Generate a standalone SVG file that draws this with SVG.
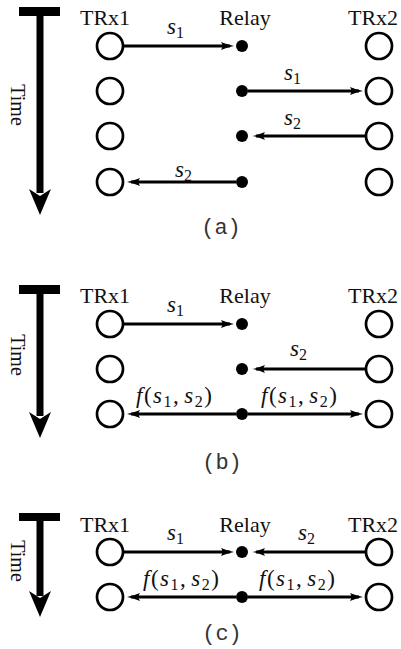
<svg xmlns="http://www.w3.org/2000/svg" width="401" height="649" viewBox="0 0 401 649">
<style>
.lbl{font-family:"Liberation Serif","Times New Roman",serif;font-size:22px;fill:#111;text-anchor:middle;}
.time{font-family:"Liberation Serif","Times New Roman",serif;font-size:20px;fill:#111;text-anchor:middle;}
.math{font-family:"Liberation Serif","Times New Roman",serif;font-size:23px;fill:#111;}
.fx{letter-spacing:1.5px;}
.it{font-style:italic;}
.sub{font-size:16px;}
.cap{font-family:"Liberation Mono","Courier New",monospace;font-size:22px;fill:#333;text-anchor:middle;}
.tx{fill:#fff;stroke:#000;stroke-width:2.7;}
.dot{fill:#000;}
.conn{stroke:#000;stroke-width:3;fill:none;marker-end:url(#ah);}
.bar{fill:#000;}
</style>
<defs>
<marker id="ah" markerUnits="userSpaceOnUse" viewBox="0 0 13 9" refX="9" refY="4.5" markerWidth="13" markerHeight="9" orient="auto">
<path d="M0,0.6 Q7,3.6 13,4.5 Q7,5.4 0,8.4 Q3,4.5 0,0.6 Z" fill="#000"/>
</marker>
</defs>

<!-- Panel (a) -->
<g id="time-a">
<rect class="bar" x="19" y="7" width="41" height="9"/>
<rect class="bar" x="36.5" y="15" width="7" height="178"/>
<polygon class="bar" points="29,189 40,215 51,189 40,196"/>
<text class="time" transform="translate(11,105) rotate(90)">Time</text>
</g>
<g id="labels-a">
<text class="lbl" x="105" y="25">TRx1</text>
<text class="lbl" x="245" y="25">Relay</text>
<text class="lbl" x="373" y="25">TRx2</text>
</g>
<g id="trx1-a">
<circle class="tx" cx="110" cy="46" r="13"/>
<circle class="tx" cx="110" cy="91" r="13"/>
<circle class="tx" cx="110" cy="136" r="13"/>
<circle class="tx" cx="110" cy="182" r="13"/>
</g>
<g id="relay-a">
<circle class="dot" cx="242" cy="46" r="6"/>
<circle class="dot" cx="242" cy="91" r="6"/>
<circle class="dot" cx="242" cy="136" r="6"/>
<circle class="dot" cx="242" cy="182" r="6"/>
</g>
<g id="trx2-a">
<circle class="tx" cx="379" cy="46" r="13"/>
<circle class="tx" cx="379" cy="91" r="13"/>
<circle class="tx" cx="379" cy="136" r="13"/>
<circle class="tx" cx="379" cy="182" r="13"/>
</g>
<g id="connectors-a">
<line class="conn" x1="123" y1="46" x2="230" y2="46"/>
<line class="conn" x1="248" y1="91" x2="359" y2="91"/>
<line class="conn" x1="366" y1="136" x2="256" y2="136"/>
<line class="conn" x1="236" y1="182" x2="131" y2="182"/>
<text class="math" x="167" y="34"><tspan class="it">s</tspan><tspan class="sub" dy="4">1</tspan></text>
<text class="math" x="284" y="80"><tspan class="it">s</tspan><tspan class="sub" dy="4">1</tspan></text>
<text class="math" x="284" y="125"><tspan class="it">s</tspan><tspan class="sub" dy="4">2</tspan></text>
<text class="math" x="175" y="177"><tspan class="it">s</tspan><tspan class="sub" dy="4">2</tspan></text>
</g>
<text class="cap" x="221" y="234">(a)</text>

<!-- Panel (b) -->
<g id="time-b">
<rect class="bar" x="19" y="285" width="41" height="9"/>
<rect class="bar" x="36.5" y="293" width="7" height="123"/>
<polygon class="bar" points="29,412 40,438 51,412 40,419"/>
<text class="time" transform="translate(11,355) rotate(90)">Time</text>
</g>
<g id="labels-b">
<text class="lbl" x="105" y="303">TRx1</text>
<text class="lbl" x="245" y="303">Relay</text>
<text class="lbl" x="373" y="303">TRx2</text>
</g>
<g id="trx1-b">
<circle class="tx" cx="110" cy="324" r="13"/>
<circle class="tx" cx="110" cy="369" r="13"/>
<circle class="tx" cx="110" cy="414" r="13"/>
</g>
<g id="relay-b">
<circle class="dot" cx="242" cy="324" r="6"/>
<circle class="dot" cx="242" cy="369" r="6"/>
<circle class="dot" cx="242" cy="414" r="6"/>
</g>
<g id="trx2-b">
<circle class="tx" cx="379" cy="324" r="13"/>
<circle class="tx" cx="379" cy="369" r="13"/>
<circle class="tx" cx="379" cy="414" r="13"/>
</g>
<g id="connectors-b">
<line class="conn" x1="123" y1="324" x2="230" y2="324"/>
<line class="conn" x1="366" y1="369" x2="256" y2="369"/>
<line class="conn" x1="236" y1="414" x2="131" y2="414"/>
<line class="conn" x1="248" y1="414" x2="359" y2="414"/>
<text class="math" x="167" y="312"><tspan class="it">s</tspan><tspan class="sub" dy="4">1</tspan></text>
<text class="math" x="290" y="356"><tspan class="it">s</tspan><tspan class="sub" dy="4">2</tspan></text>
<text class="math fx" x="136" y="403"><tspan class="it">f</tspan>(<tspan class="it">s</tspan><tspan class="sub" dy="4">1</tspan><tspan dy="-4">,</tspan><tspan class="it" dx="4">s</tspan><tspan class="sub" dy="4">2</tspan><tspan dy="-4">)</tspan></text>
<text class="math fx" x="261" y="403"><tspan class="it">f</tspan>(<tspan class="it">s</tspan><tspan class="sub" dy="4">1</tspan><tspan dy="-4">,</tspan><tspan class="it" dx="4">s</tspan><tspan class="sub" dy="4">2</tspan><tspan dy="-4">)</tspan></text>
</g>
<text class="cap" x="222" y="469">(b)</text>

<!-- Panel (c) -->
<g id="time-c">
<rect class="bar" x="19" y="513" width="41" height="8"/>
<rect class="bar" x="36.5" y="520" width="7" height="76"/>
<polygon class="bar" points="29,591 40,617 51,591 40,598"/>
<text class="time" transform="translate(11,561) rotate(90)">Time</text>
</g>
<g id="labels-c">
<text class="lbl" x="105" y="532">TRx1</text>
<text class="lbl" x="245" y="532">Relay</text>
<text class="lbl" x="373" y="532">TRx2</text>
</g>
<g id="trx1-c">
<circle class="tx" cx="110" cy="552" r="13"/>
<circle class="tx" cx="110" cy="597" r="13"/>
</g>
<g id="relay-c">
<circle class="dot" cx="242" cy="552" r="6"/>
<circle class="dot" cx="242" cy="597" r="6"/>
</g>
<g id="trx2-c">
<circle class="tx" cx="379" cy="552" r="13"/>
<circle class="tx" cx="379" cy="597" r="13"/>
</g>
<g id="connectors-c">
<line class="conn" x1="123" y1="552" x2="230" y2="552"/>
<line class="conn" x1="366" y1="552" x2="256" y2="552"/>
<line class="conn" x1="236" y1="597" x2="131" y2="597"/>
<line class="conn" x1="248" y1="597" x2="359" y2="597"/>
<text class="math" x="167" y="540"><tspan class="it">s</tspan><tspan class="sub" dy="4">1</tspan></text>
<text class="math" x="298" y="540"><tspan class="it">s</tspan><tspan class="sub" dy="4">2</tspan></text>
<text class="math fx" x="143" y="586"><tspan class="it">f</tspan>(<tspan class="it">s</tspan><tspan class="sub" dy="4">1</tspan><tspan dy="-4">,</tspan><tspan class="it" dx="4">s</tspan><tspan class="sub" dy="4">2</tspan><tspan dy="-4">)</tspan></text>
<text class="math fx" x="259" y="586"><tspan class="it">f</tspan>(<tspan class="it">s</tspan><tspan class="sub" dy="4">1</tspan><tspan dy="-4">,</tspan><tspan class="it" dx="4">s</tspan><tspan class="sub" dy="4">2</tspan><tspan dy="-4">)</tspan></text>
</g>
<text class="cap" x="222" y="640">(c)</text>
</svg>
